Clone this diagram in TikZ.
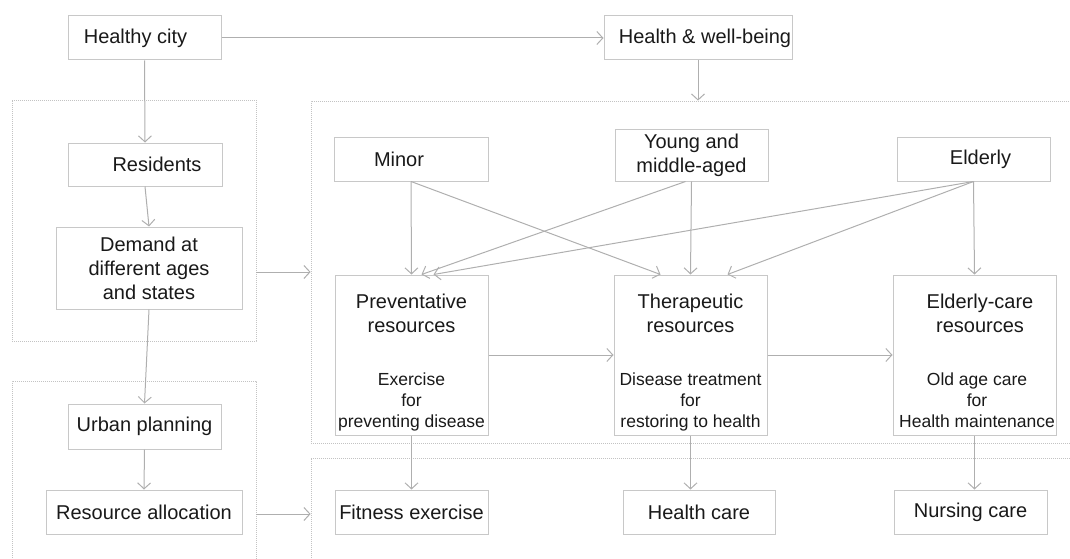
\documentclass[tikz,border=0pt]{standalone}
\usepackage{fontspec}
\setmainfont{Liberation Sans}
\usetikzlibrary{arrows.meta}
\definecolor{boxgray}{RGB}{200,200,200}
\definecolor{arrgray}{RGB}{175,175,175}
\definecolor{contgray}{RGB}{195,195,195}
\definecolor{txt}{RGB}{25,25,25}
\tikzset{
  box/.style={draw=boxgray, line width=1pt, inner sep=0pt, align=center, text=txt,
    font=\fontsize{20}{24}\selectfont},
  bigbox/.style={draw=boxgray, line width=1pt, inner sep=0pt},
  ttl/.style={inner sep=0pt, align=center, text=txt, font=\fontsize{20}{24}\selectfont},
  sub/.style={inner sep=0pt, align=center, text=txt, font=\fontsize{17.5}{21}\selectfont},
  cont/.style={draw=contgray, line width=0.8pt, dash pattern=on 0.8pt off 1.2pt, inner sep=0pt},
  arr/.style={draw=arrgray, line width=1pt, -{Straight Barb[length=6pt,width=13pt]}},
}
\begin{document}
\begin{tikzpicture}[x=1pt,y=-1pt]
\useasboundingbox (0,0) rectangle (1070,559);
% containers
\node[cont, minimum width=244, minimum height=241] (c1) at (134,220.5) {};
\node[cont, minimum width=764, minimum height=342] (c2) at (693,272) {};
\node[cont, minimum width=244, minimum height=190] (c3) at (134,476) {};
\node[cont, minimum width=764, minimum height=115] (c4) at (693,515.5) {};
% left column
\node[box, minimum width=153, minimum height=44] (hc) at (144.5,38) {Healthy city\hspace*{18pt}};
\node[box, minimum width=188, minimum height=44] (hw) at (698,38) {\hspace*{14pt}Health \& well-being};
\node[box, minimum width=154, minimum height=43] (res) at (145,164.5) {\hspace*{24pt}Residents};
\node[box, minimum width=186, minimum height=82] (dem) at (149,268) {Demand at\\different ages\\and states};
\node[box, minimum width=153, minimum height=45] (up) at (144.5,426.5) {Urban planning};
\node[box, minimum width=196, minimum height=44] (ra) at (144,512) {Resource allocation};
% age groups
\node[box, minimum width=154, minimum height=44] (minor) at (411,159) {Minor\hspace*{24pt}};
\node[box, minimum width=153, minimum height=51] (young) at (691.5,155.5) {Young and\\middle-aged};
\node[box, minimum width=153, minimum height=44] (eld) at (973.5,159) {\hspace*{14pt}Elderly};
% resources
\node[bigbox, minimum width=153, minimum height=160] (prev) at (411.5,355) {};
\node[bigbox, minimum width=153, minimum height=160] (ther) at (690.5,355) {};
\node[bigbox, minimum width=163, minimum height=160] (ecare) at (974.5,355) {};
\node[ttl] (prevt) at (411.5,313) {Preventative\\resources};
\node[sub] (prevs) at (411.5,401.5) {Exercise\\for\\preventing disease};
\node[ttl] (thert) at (690.5,313) {Therapeutic\\resources};
\node[sub] (thers) at (690.5,401.5) {Disease treatment\\for\\restoring to health};
\node[ttl] (ecaret) at (980,313) {Elderly-care\\resources};
\node[sub] (ecares) at (977,400) {Old age care\\for\\Health maintenance};
% bottom
\node[box, minimum width=153, minimum height=44] (fit) at (411.5,512) {Fitness exercise};
\node[box, minimum width=152, minimum height=44] (hcare) at (699,512) {Health care};
\node[box, minimum width=153, minimum height=44] (nurse) at (970.5,512) {Nursing care};
% connectors
\draw[arr] (hc.east) -- (hw.west);
\draw[arr] (hw.south) -- (hw.south |- c2.north);
\draw[arr] (hc.south) -- (res.north);
\draw[arr] (res.south) -- (dem.north);
\draw[arr] (dem.south) -- (up.north);
\draw[arr] (up.south) -- (ra.north);
\draw[arr] ([yshift=-4pt]c1.east |- dem.east) -- ([yshift=-4pt]c2.west |- dem.east);
\draw[arr] ([yshift=-2pt]c3.east |- ra.east) -- ([yshift=-2pt]c4.west |- ra.east);
\draw[arr] (minor.south) -- (prev.north);
\draw[arr] (minor.south) -- ([xshift=-30pt]ther.north);
\draw[arr] ([xshift=-6pt]young.south) -- ([xshift=10pt]prev.north);
\draw[arr] (young.south) -- (ther.north);
\draw[arr] (eld.south) -- ([xshift=22pt]prev.north);
\draw[arr] (eld.south) -- ([xshift=37pt]ther.north);
\draw[arr] (eld.south) -- (ecare.north);
\draw[arr] (prev.east) -- (ther.west);
\draw[arr] (ther.east) -- (ecare.west);
\draw[arr] (prev.south) -- (fit.north);
\draw[arr] (ther.south) -- (ther.south |- hcare.north);
\draw[arr] (ecare.south) -- (ecare.south |- nurse.north);
\end{tikzpicture}
\end{document}
